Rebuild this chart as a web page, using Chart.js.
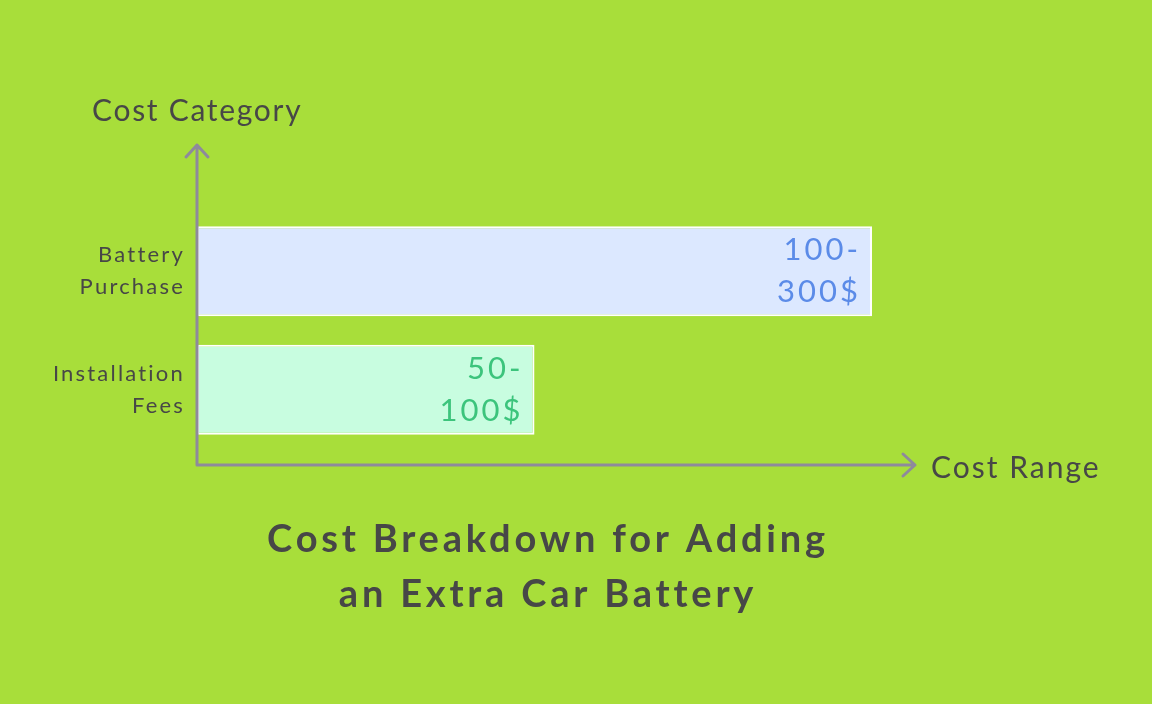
<!DOCTYPE html>
<html>
<head>
<meta charset="utf-8">
<script src="https://cdn.jsdelivr.net/npm/chart.js@4"></script>
<style>
html,body{margin:0;padding:0;background:#a8de3a;}
#wrap{width:1152px;height:704px;position:relative;}
</style>
</head>
<body>
<div id="wrap"><canvas id="c" width="1152" height="704"></canvas></div>
<script>
const categories = [["Battery", "Purchase"], ["Installation", "Fees"]];
const values = [300, 150];
const valueLabels = [["100-", "300$"], ["50-", "100$"]];
const barColors = ["#dce8ff", "#c8fde0"];
const labelColors = ["#5b8be8", "#3cc47c"];
const xAxisTitle = "Cost Range";
const yAxisTitle = "Cost Category";
const titleLines = ["Cost Breakdown for Adding", "an Extra Car Battery"];

const FONT = "Lato, 'Open Sans', sans-serif";
const TEXT = "#474747";
const AXIS = "#8e8a9c";

const overlay = {
  id: "overlay",
  afterDatasetsDraw(chart) {
    const ctx = chart.ctx;
    const a = chart.chartArea;
    const ys = chart.scales.y;
    ctx.save();
    // axes with arrows
    const ox = a.left, oy = a.bottom + 16;
    ctx.strokeStyle = AXIS;
    ctx.lineWidth = 3;
    ctx.lineCap = "round";
    ctx.lineJoin = "round";
    ctx.beginPath();
    ctx.moveTo(ox, oy); ctx.lineTo(ox, a.top - 67);
    ctx.moveTo(ox - 11, a.top - 55); ctx.lineTo(ox, a.top - 67); ctx.lineTo(ox + 11, a.top - 55);
    ctx.moveTo(ox, oy); ctx.lineTo(a.right + 43, oy);
    ctx.moveTo(a.right + 31, oy - 11); ctx.lineTo(a.right + 43, oy); ctx.lineTo(a.right + 31, oy + 11);
    ctx.stroke();

    // axis titles
    ctx.fillStyle = TEXT;
    ctx.font = "30px " + FONT;
    ctx.letterSpacing = "1.7px";
    ctx.textBaseline = "middle";
    ctx.textAlign = "left";
    ctx.fillText(yAxisTitle, 92, a.top - 101);
    ctx.letterSpacing = "2px";
    ctx.fillText(xAxisTitle, a.right + 59, oy + 3);

    // category labels
    ctx.font = "22px " + FONT;
    ctx.letterSpacing = "2.2px";
    ctx.textAlign = "right";
    categories.forEach((lines, i) => {
      const cy = ys.getPixelForValue(i);
      lines.forEach((t, j) => {
        ctx.fillText(t, a.left - 12, cy - 16 + j * 32);
      });
    });

    // value labels
    const meta = chart.getDatasetMeta(0);
    ctx.font = "31px " + FONT;
    ctx.letterSpacing = "3px";
    meta.data.forEach((bar, i) => {
      ctx.fillStyle = labelColors[i];
      valueLabels[i].forEach((t, j) => {
        ctx.fillText(t, bar.x - 11, bar.y - 21 + j * 42);
      });
    });

    // title
    ctx.fillStyle = TEXT;
    ctx.font = "bold 38px " + FONT;
    ctx.letterSpacing = "3.8px";
    ctx.textAlign = "center";
    titleLines.forEach((t, j) => {
      ctx.fillText(t, 548, 540 + j * 55);
    });
    ctx.restore();
  }
};

new Chart(document.getElementById("c"), {
  type: "bar",
  data: {
    labels: categories,
    datasets: [{
      data: values,
      backgroundColor: barColors,
      borderColor: "#ffffff",
      borderWidth: 2,
      borderSkipped: false,
      categoryPercentage: 1,
      barPercentage: 0.76
    }]
  },
  options: {
    indexAxis: "y",
    responsive: false,
    animation: false,
    layout: { padding: { left: 197, right: 280, top: 212, bottom: 255 } },
    plugins: { legend: { display: false }, tooltip: { enabled: false }, title: { display: false } },
    scales: {
      x: { min: 0, max: 300, display: false },
      y: { display: false }
    }
  },
  plugins: [overlay]
});
</script>
</body>
</html>
